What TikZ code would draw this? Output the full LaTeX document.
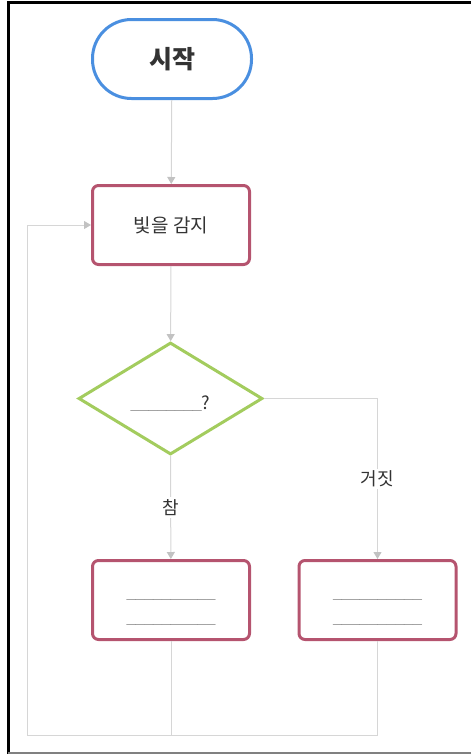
\documentclass[tikz,border=0pt]{standalone}
\usepackage{fontspec}
\setmainfont{Noto Sans CJK KR}
\newfontfamily\blankfont{Liberation Sans}
\usetikzlibrary{shapes.geometric,arrows.meta}
\definecolor{startblue}{HTML}{4A8FE0}
\definecolor{boxred}{HTML}{B5546F}
\definecolor{decgreen}{HTML}{A3CC5E}
\definecolor{conn}{HTML}{D6D6D6}
\definecolor{tipgray}{HTML}{C2C2C2}
\definecolor{txt}{HTML}{333333}
\definecolor{blank}{HTML}{6A6A6A}
\begin{document}
\begin{tikzpicture}[x=1pt,y=-1pt,
  startbox/.style={draw=startblue,line width=3pt,rounded corners=39pt,minimum width=159pt,minimum height=79pt,inner sep=0pt,text=txt,font=\fontsize{25}{30}\selectfont\bfseries},
  procbox/.style={draw=boxred,line width=3pt,rounded corners=6pt,minimum width=157pt,minimum height=79pt,inner sep=0pt,text=txt,font=\fontsize{19}{23}\selectfont},
  blankbox/.style={procbox,text=blank,align=center,font=\blankfont\bfseries\fontsize{16}{25}\selectfont},
  decision/.style={draw=decgreen,line width=3pt,diamond,minimum width=184pt,minimum height=112pt,inner sep=0pt,text=txt,font=\fontsize{18}{22}\selectfont},
  link/.style={draw=conn,line width=1pt},
  arrowlink/.style={link,-{Triangle[width=8pt,length=7pt,color=tipgray]}},
  lbl/.style={fill=white,text=txt,inner sep=2pt,font=\fontsize{18}{22}\selectfont}]
\useasboundingbox (0,0) rectangle (471,755);
% frame
\draw[black,line width=3pt] (471,2) -- (8,2) -- (8,753.5);
\draw[gray,line width=2pt] (8,753) -- (471,753);
% nodes
\node[startbox] (start) at (172,59) {시작};
\node[procbox] (sense) at (171,225) {빛을 감지};
\node[decision] (dec) at (170.5,398.5) {\rule{0pt}{24pt}{\blankfont\bfseries\fontsize{16}{20}\selectfont\color{blank}\_\_\_\_\_\_\_\_}\color{txt}?};
\node[blankbox] (yes) at (171,600) {\rule{0pt}{24pt}\_\_\_\_\_\_\_\_\_\_\\\_\_\_\_\_\_\_\_\_\_};
\node[blankbox] (no) at (377.5,600) {\rule{0pt}{24pt}\_\_\_\_\_\_\_\_\_\_\\\_\_\_\_\_\_\_\_\_\_};
\coordinate (lb) at (27,735);
\coordinate (join) at (171,735);
% connectors
\draw[arrowlink] (start) -- (sense);
\draw[arrowlink] (sense) -- (dec);
\draw[arrowlink] (dec.south) -- node[lbl] {참} (yes);
\draw[arrowlink] (dec.east) -| node[lbl,pos=0.75] {거짓} (no.north);
\draw[arrowlink] (yes.south) |- (lb) |- (sense.west);
\draw[link] (no.south) |- (join);
\end{tikzpicture}
\end{document}
